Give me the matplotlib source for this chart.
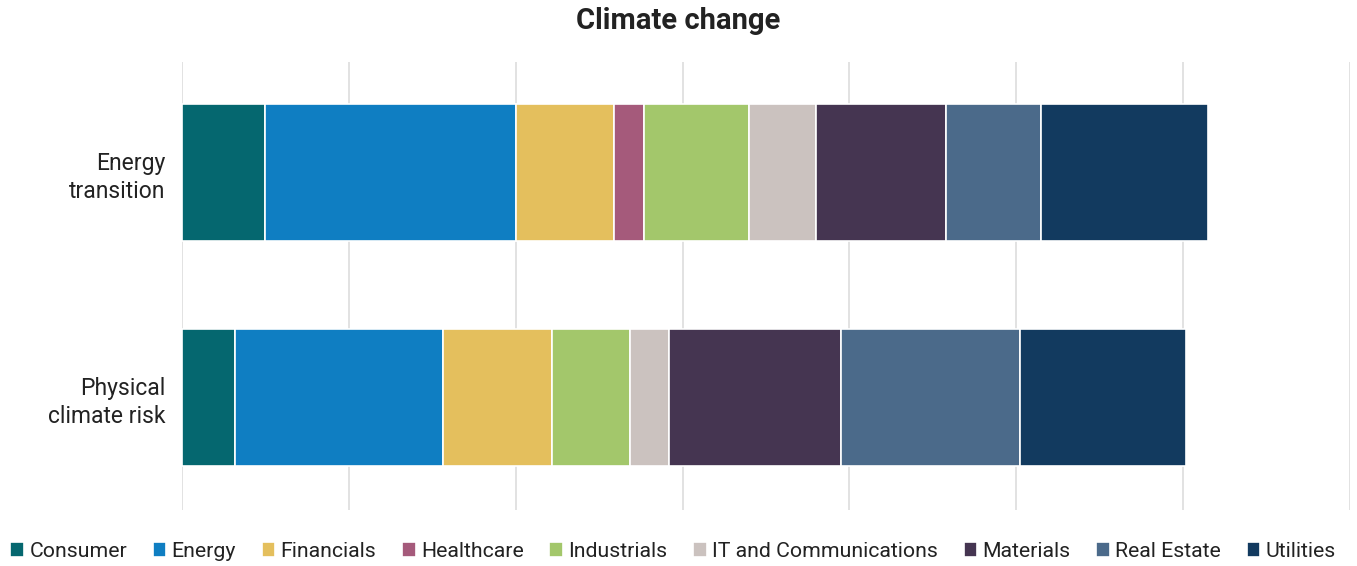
import matplotlib.pyplot as plt

plt.rcParams['font.family'] = ['Roboto', 'DejaVu Sans']

categories = ['Energy\ntransition', 'Physical\nclimate risk']
sectors = ['Consumer', 'Energy', 'Financials', 'Healthcare', 'Industrials',
           'IT and Communications', 'Materials', 'Real Estate', 'Utilities']
colors = ['#05676f', '#0f7ec2', '#e4bf5d', '#a55a7b', '#a3c76b',
          '#cbc2bf', '#453551', '#4b6a8a', '#123a5f']

# values per sector: [Energy transition, Physical climate risk]
consumer = [5.0, 3.2]
energy = [15.0, 12.45]
financials = [5.9, 6.5]
healthcare = [1.8, 0.0]
industrials = [6.3, 4.7]
it_comm = [4.0, 2.35]
materials = [7.8, 10.3]
real_estate = [5.7, 10.7]
utilities = [10.0, 10.0]

series = [consumer, energy, financials, healthcare, industrials,
          it_comm, materials, real_estate, utilities]

fig = plt.figure(figsize=(13.57, 5.66), dpi=100)
ax = fig.add_axes([0.1341, 0.0989, 0.8607, 0.7915])

y = [0, 1]
left = [0.0, 0.0]
for name, vals, c in zip(sectors, series, colors):
    ax.barh(y, vals, left=left, height=0.61, color=c, edgecolor='white',
            linewidth=1.2, label=name, zorder=3)
    left = [l + v for l, v in zip(left, vals)]

ax.set_xlim(0, 70)
ax.set_ylim(1.5, -0.49)
ax.set_xticks(range(0, 71, 10))
ax.xaxis.grid(True, color='#dddddd', linewidth=1.2, zorder=0)
ax.tick_params(axis='x', length=0, labelbottom=False)
ax.tick_params(axis='y', length=0, labelsize=16.5, pad=12, colors='#222222')
ax.set_yticks(y)
ax.set_yticklabels(categories, ha='right', linespacing=1.3)
for s in ax.spines.values():
    s.set_visible(False)

fig.suptitle('Climate change', fontsize=21, fontweight='bold', y=0.988,
             color='#222222')

handles, labels = ax.get_legend_handles_labels()
fig.legend(handles, labels, loc='lower center', ncol=9, frameon=False,
           fontsize=15.3, bbox_to_anchor=(0.496, -0.025), handlelength=0.65,
           handleheight=0.65, handletextpad=0.25, columnspacing=1.2,
           labelcolor='#222222')

fig.savefig('out.png', dpi=100)
